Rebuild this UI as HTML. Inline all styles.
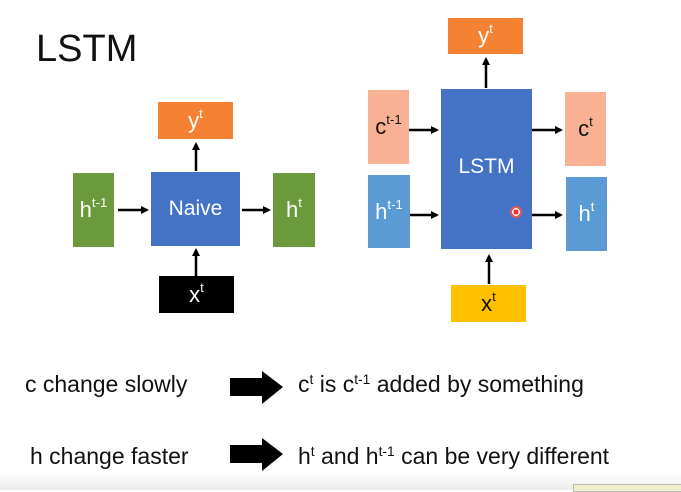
<!DOCTYPE html>
<html><head><style>
body{margin:0;width:681px;height:490px;background:#fff;position:relative;overflow:hidden;font-family:"Liberation Sans",sans-serif}
.b{position:absolute;display:flex;align-items:center;justify-content:center;color:#fff;font-size:22px;box-sizing:border-box}
sup{font-size:60%;vertical-align:0;position:relative;top:-0.55em}
.t{position:absolute;font-size:23px;color:#111;white-space:nowrap}
</style></head><body>
<div style="position:absolute;left:36px;top:28px;font-size:38px;color:#111">LSTM</div>

<div class="b" style="left:158px;top:102px;width:75px;height:37px;background:#f58232">y<sup>t</sup></div>
<div class="b" style="left:151px;top:172px;width:89px;height:74px;background:#4472c4;font-size:21px">Naive</div>
<div class="b" style="left:73px;top:173px;width:41px;height:74px;background:#6a9a3c">h<sup>t-1</sup></div>
<div class="b" style="left:273px;top:173px;width:42px;height:74px;background:#6a9a3c">h<sup>t</sup></div>
<div class="b" style="left:159px;top:276px;width:75px;height:37px;background:#000">x<sup>t</sup></div>

<div class="b" style="left:448px;top:18px;width:75px;height:36px;background:#f58232">y<sup>t</sup></div>
<div class="b" style="left:441px;top:89px;width:91px;height:160px;background:#4472c4;font-size:21px;padding-bottom:4px">LSTM</div>
<div class="b" style="left:368px;top:90px;width:41px;height:74px;background:#f8b193;color:#111">c<sup>t-1</sup></div>
<div class="b" style="left:368px;top:175px;width:42px;height:73px;background:#5b9bd5">h<sup>t-1</sup></div>
<div class="b" style="left:565px;top:92px;width:41px;height:74px;background:#f8b193;color:#111">c<sup>t</sup></div>
<div class="b" style="left:566px;top:177px;width:41px;height:74px;background:#5b9bd5">h<sup>t</sup></div>
<div class="b" style="left:451px;top:285px;width:75px;height:37px;background:#ffc000;color:#111">x<sup>t</sup></div>
<div style="position:absolute;left:510px;top:206px;width:12px;height:12px;border-radius:50%;background:radial-gradient(#e33 0 30%,#fff 31% 45%,#e55 46% 60%,rgba(255,150,150,0) 100%)"></div>

<svg width="681" height="490" style="position:absolute;left:0;top:0">
<defs><marker id="a" markerWidth="8" markerHeight="8" refX="6" refY="4" orient="auto" markerUnits="userSpaceOnUse"><path d="M0,0 L8,4 L0,8z" fill="#000"/></marker></defs>
<g stroke="#000" stroke-width="2.5" marker-end="url(#a)">
<line x1="196" y1="171" x2="196" y2="144"/>
<line x1="118" y1="210" x2="147" y2="210"/>
<line x1="242" y1="210" x2="269" y2="210"/>
<line x1="196" y1="276" x2="196" y2="250"/>
<line x1="486" y1="88" x2="486" y2="59"/>
<line x1="409" y1="130" x2="437" y2="130"/>
<line x1="410" y1="215" x2="437" y2="215"/>
<line x1="532" y1="130" x2="561" y2="130"/>
<line x1="532" y1="215" x2="561" y2="215"/>
<line x1="489" y1="284" x2="489" y2="256"/>
</g>
<path d="M230,378 H262 V371 L283,387 L262,404 V396 H230z" fill="#000"/>
<path d="M230,445 H262 V438 L283,454 L262,471 V463 H230z" fill="#000"/>
</svg>

<div class="t" style="left:25px;top:371px">c change slowly</div>
<div class="t" style="left:298px;top:371px">c<sup>t</sup> is c<sup>t-1</sup> added by something</div>
<div class="t" style="left:30px;top:443px">h change faster</div>
<div class="t" style="left:298px;top:443px">h<sup>t</sup> and h<sup>t-1</sup> can be very different</div>
<div style="position:absolute;left:0;top:472px;width:681px;height:18px;background:linear-gradient(#fff,#ececec)"></div>
<div style="position:absolute;left:573px;top:484px;width:108px;height:6px;background:#f3efc8;border:1px solid #bbb"></div>
</body></html>
